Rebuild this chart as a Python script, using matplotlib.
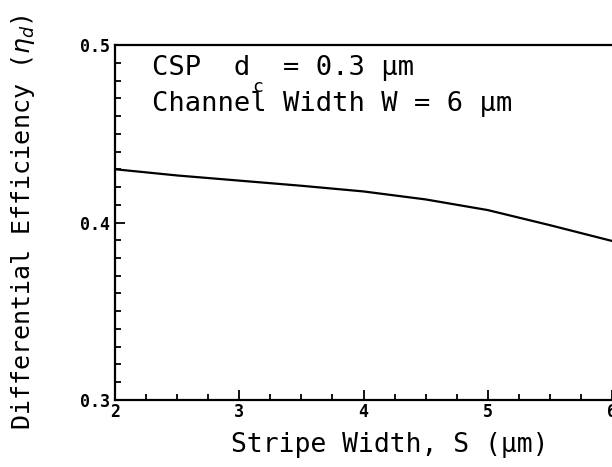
import matplotlib
matplotlib.use("Agg")
import matplotlib.pyplot as plt
from matplotlib.ticker import MultipleLocator

# curve
stripe_w = [2.0, 2.5, 3.0, 3.5, 4.0, 4.5, 5.0, 5.5, 6.0]
eta_d = [0.430, 0.4265, 0.4236, 0.4207, 0.4175, 0.4130, 0.4070, 0.3985, 0.3896]
x_ticks = [2, 3, 4, 5, 6]
y_ticks = [0.3, 0.4, 0.5]

mono = "DejaVu Sans Mono"

fig = plt.figure(figsize=(6.12, 4.67), dpi=100)
ax = fig.add_axes([0.188, 0.1435, 0.812, 0.7601])

ax.plot(stripe_w, eta_d, color="black", linewidth=1.6)

ax.set_xlim(2, 6)
ax.set_ylim(0.3, 0.5)
ax.set_xticks(x_ticks)
ax.set_xticklabels([str(v) for v in x_ticks])
ax.set_yticks(y_ticks)
ax.set_yticklabels([f"{v:.1f}" for v in y_ticks])
ax.xaxis.set_minor_locator(MultipleLocator(0.25))
ax.yaxis.set_minor_locator(MultipleLocator(0.01))

ax.tick_params(which="both", direction="in", top=False, right=False, width=1.3)
ax.tick_params(which="major", length=7, labelsize=12)
ax.tick_params(axis="x", which="major", pad=2)
ax.tick_params(axis="y", which="major", pad=4)
ax.tick_params(which="minor", length=4)
for lab in ax.get_xticklabels() + ax.get_yticklabels():
    lab.set_fontfamily(mono)
    lab.set_fontweight("bold")

for s in ["left", "bottom", "top"]:
    ax.spines[s].set_linewidth(1.6)
ax.spines["right"].set_visible(False)

ax.set_xlabel("Stripe Width, S (μm)", fontfamily=mono, fontsize=19)
ax.xaxis.set_label_coords(0.553, -0.09)
ax.set_ylabel(r"Differential Efficiency ($\eta_d$)", fontfamily=mono, fontsize=18)
ax.yaxis.set_label_coords(-0.157, 0.50)

# note in the corner, subscript c drawn on its own below the d
ax.text(0.0744, 0.9155, "CSP  d  = 0.3 μm", transform=ax.transAxes,
        fontfamily=mono, fontsize=19.5, va="baseline", ha="left")
ax.text(0.2757, 0.867, "c", transform=ax.transAxes,
        fontfamily=mono, fontsize=13, va="baseline", ha="left")
ax.text(0.0744, 0.813, "Channel Width W = 6 μm", transform=ax.transAxes,
        fontfamily=mono, fontsize=19.5, va="baseline", ha="left")

fig.savefig("out.png", dpi=100)
